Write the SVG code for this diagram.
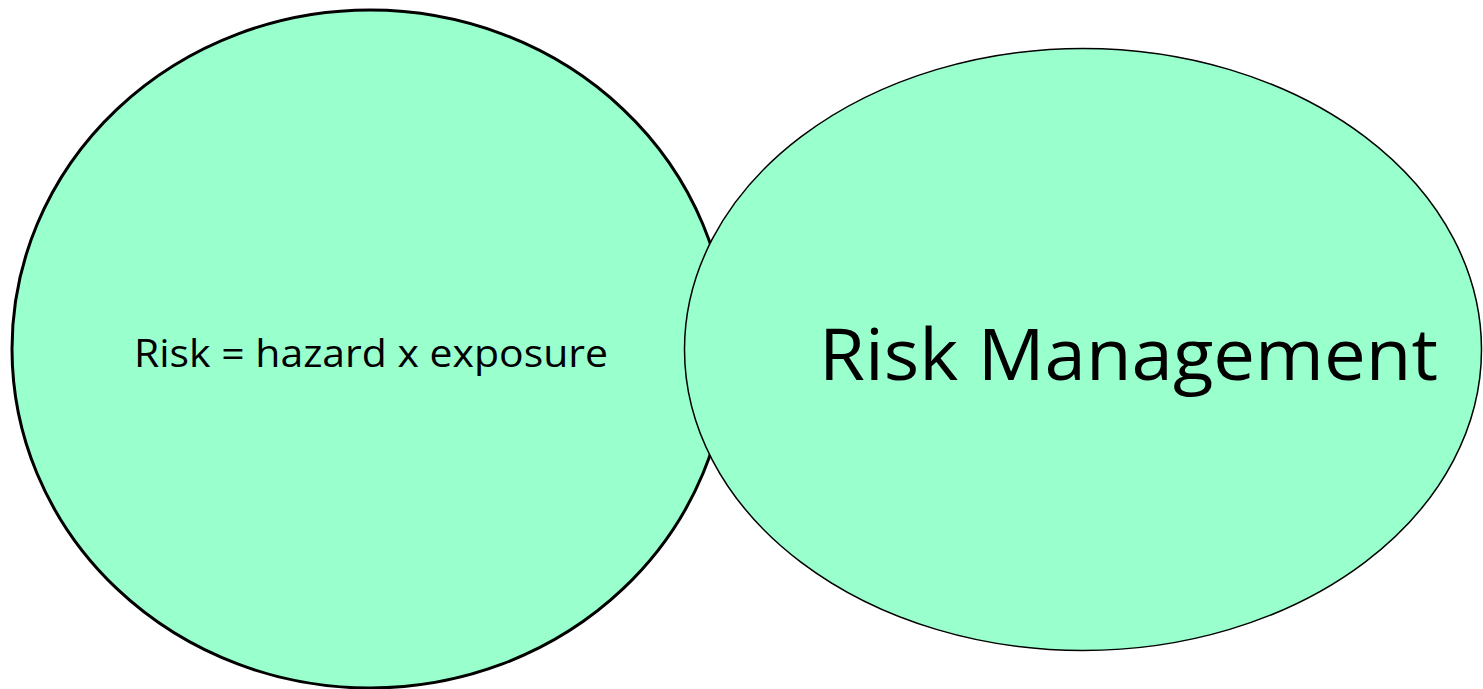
<svg xmlns="http://www.w3.org/2000/svg" width="1483" height="689" viewBox="0 0 1483 689">
<style>
.node{fill:#99FFCC;stroke:#000}
.t{font-family:"Open Sans","Noto Sans",sans-serif;fill:#000}
</style>
<rect width="1483" height="689" fill="#fff"/>
<g id="risk">
<ellipse class="node" cx="370" cy="349" rx="358" ry="339" stroke-width="3"/>
<text class="t" x="134" y="367" font-size="38" textLength="474" lengthAdjust="spacingAndGlyphs">Risk = hazard x exposure</text>
</g>
<g id="risk-management">
<ellipse class="node" cx="1083" cy="349.5" rx="398.5" ry="301" stroke-width="1.5"/>
<text class="t" x="819" y="380" font-size="72" textLength="619" lengthAdjust="spacingAndGlyphs">Risk Management</text>
</g>
<g id="connectors"/>
</svg>
